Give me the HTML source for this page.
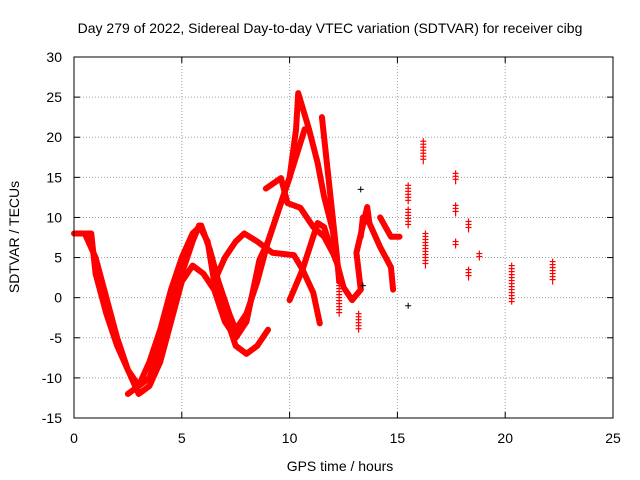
<!DOCTYPE html>
<html><head><meta charset="utf-8"><style>
body{margin:0;background:#fff}
svg{display:block;font-family:"Liberation Sans",sans-serif;font-size:14px}
</style></head><body>
<svg id="chart" width="640" height="480">
<text x="330" y="33" text-anchor="middle">Day 279 of 2022, Sidereal Day-to-day VTEC variation (SDTVAR) for receiver cibg</text>
<text x="340" y="471" text-anchor="middle">GPS time / hours</text>
<text transform="translate(19,237) rotate(-90)" text-anchor="middle">SDTVAR / TECUs</text>
<g id="grid"></g><g id="ticks"></g><g id="marks"></g>
<rect x="74" y="57" width="539" height="361" fill="none" stroke="#000"/>
</svg>
<script>
const xTicks=[0,5,10,15,20,25];
const yTicks=[-15,-10,-5,0,5,10,15,20,25,30];
const trackA=[[0,8],[0.8,8],[1,3],[1.5,-2],[2,-6],[2.5,-9],[3,-11],[3.5,-10],[4,-6],[4.5,-1],[5,3],[5.5,7],[5.8,9],[6.2,7],[6.5,2],[7,-2],[7.5,-6],[8,-7],[8.5,-6],[9,-4]];
const trackB=[[0.5,8],[1,5],[1.5,0],[2,-5],[2.5,-9],[3,-12],[3.5,-11],[4,-8],[4.5,-3],[5,2],[5.5,4],[6,3],[6.5,1],[7,-3],[7.5,-5],[8,-3],[8.6,4.7],[9,7],[9.5,11],[10,15],[10.7,21]];
const trackC=[[2.5,-12],[3,-11],[3.5,-8],[4,-4],[4.5,1],[5,5],[5.5,8],[5.9,9],[6.3,6],[6.7,2],[7.2,-2],[7.5,-4],[8,-2],[8.5,2],[9,7],[9.5,11],[10,15],[10.3,21],[10.4,25.5],[10.9,21],[11.3,16.8],[11.6,12.6],[12,8.4],[12.2,4.3],[12.5,1.3],[12.9,-0.3],[13.3,1]];
const trackD=[[6.5,2],[7,5],[7.5,7],[7.9,8],[8.5,7],[9.2,5.6],[10.2,5.3],[10.6,3.5],[11.1,0.6],[11.4,-3.2]];
const trackE=[[8.9,13.6],[9.6,14.9],[9.9,11.8],[10.5,11.2],[11.1,8.8],[11.6,7.6],[12,5.6]];
const trackF=[[10,-0.3],[10.6,3.5],[11.3,9.3],[11.6,8.8],[11.9,6.3],[12.2,4.3]];
const trackG=[[11.5,22.5],[11.8,15],[12.2,5],[12.3,2]];
const trackH=[[13.3,1],[13.1,5.6],[13.6,11.3],[13.7,9.3]];
const trackI=[[13.3,7.6],[13.4,10],[13.7,9.3],[14.2,6.3],[14.7,3.8],[14.8,1]];
const trackJ=[[14.2,10],[14.7,7.6],[15.1,7.6]];
const clusterX=[15.5,15.5,16.2,16.3,17.7,17.7,17.7,18.3,18.3,18.8,20.3,22.2,13.2,12.3];
const clusterLo=[9,12,17,4,14.5,10.5,6.5,2.5,8.5,5,-0.5,2,-4,-2];
const clusterHi=[11,14,19.5,8,15.5,11.5,7,3.5,9.5,5.5,4,4.5,-2,3];
const blackX=[13.3,13.4,15.5];
const blackY=[13.5,1.5,-1];
const sx=v=>74+v*(539/25), sy=v=>418-(v+15)*(361/45);
const NS='http://www.w3.org/2000/svg';
function mk(t,a,p){const e=document.createElementNS(NS,t);for(const k in a)e.setAttribute(k,a[k]);p.appendChild(e);return e;}
const grid=document.getElementById('grid'),ticks=document.getElementById('ticks'),marks=document.getElementById('marks');
xTicks.forEach(v=>{
 if(v>0&&v<25){const g=mk('line',{x1:sx(v),x2:sx(v),y1:57,y2:418,stroke:'#a0a0a0','stroke-dasharray':'1,2'},grid);}
 const t=mk('text',{x:sx(v),y:443,'text-anchor':'middle'},ticks);t.textContent=v;
 
 
 mk('line',{x1:sx(v),x2:sx(v),y1:418,y2:412,stroke:'#000'},ticks);
 mk('line',{x1:sx(v),x2:sx(v),y1:57,y2:63,stroke:'#000'},ticks);
});
yTicks.forEach(v=>{
 if(v>-15&&v<30){const g=mk('line',{x1:74,x2:613,y1:sy(v),y2:sy(v),stroke:'#a0a0a0','stroke-dasharray':'1,2'},grid);}
 const t=mk('text',{x:62,y:sy(v)+5,'text-anchor':'end'},ticks);t.textContent=v;
 
 
 mk('line',{x1:74,x2:80,y1:sy(v),y2:sy(v),stroke:'#000'},ticks);
 mk('line',{x1:613,x2:607,y1:sy(v),y2:sy(v),stroke:'#000'},ticks);
});
[trackA,trackB,trackC,trackD,trackE,trackF,trackG,trackH,trackI,trackJ].forEach((tr,i)=>{
 const p=mk('polyline',{points:tr.map(d=>sx(d[0])+','+sy(d[1])).join(' '),fill:'none',stroke:'#f00','stroke-width':6,'stroke-linejoin':'round','stroke-linecap':'round'},marks);
 
 
});
clusterX.forEach((x,i)=>{
 const g=mk('g',{stroke:'#f00','stroke-width':1.2},marks);
 
 
 const X=sx(x);
 mk('line',{x1:X,x2:X,y1:sy(clusterHi[i])-3,y2:sy(clusterLo[i])+3},g);
 for(let y=sy(clusterHi[i]);y<=sy(clusterLo[i])+0.1;y+=3) mk('line',{x1:X-3,x2:X+3,y1:y,y2:y},g);
});
blackX.forEach((x,i)=>{
 const X=sx(x),Y=sy(blackY[i]);
 const p=mk('path',{d:`M${X-3},${Y}h6M${X},${Y-3}v6`,stroke:'#000','stroke-width':1},marks);
 
 
});
</script>
</body></html>
